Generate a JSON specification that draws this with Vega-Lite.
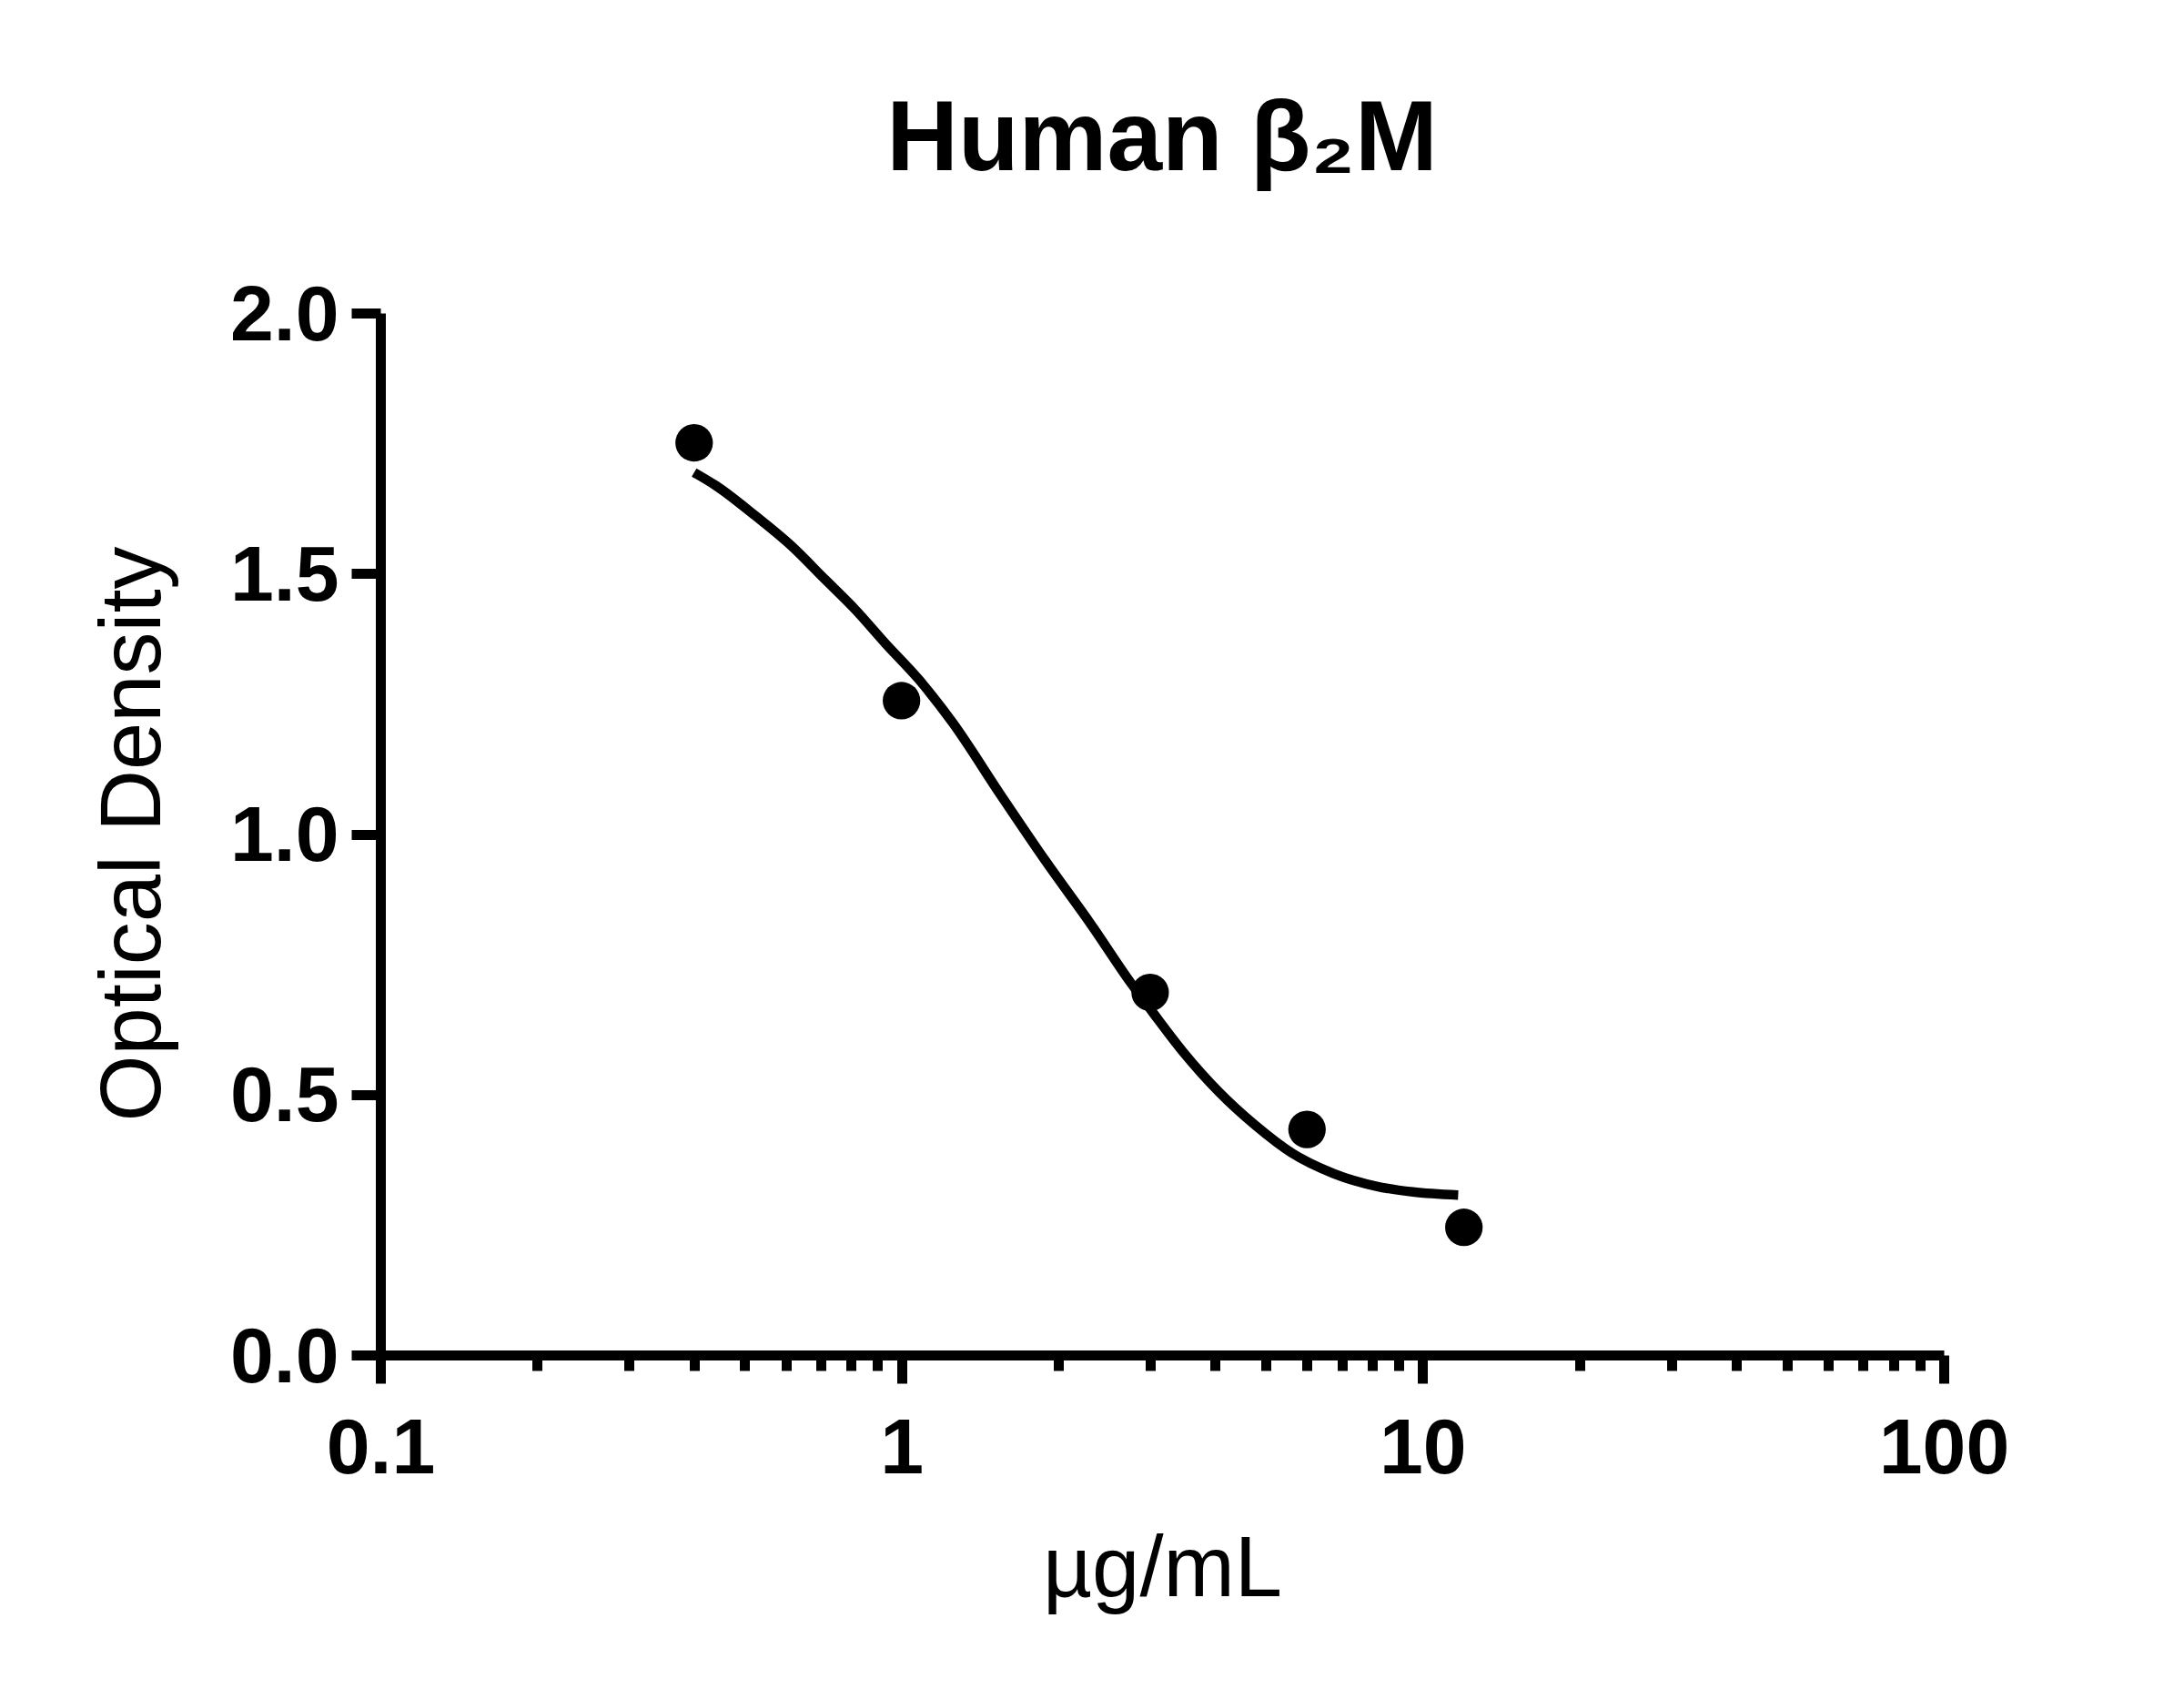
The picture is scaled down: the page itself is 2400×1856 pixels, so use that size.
{
  "$schema": "https://vega.github.io/schema/vega-lite/v6.json",
  "autosize": {"type": "none"},
  "padding": {"left": 418, "top": 344, "right": 264, "bottom": 367},
  "width": 1718,
  "height": 1145,
  "background": "white",
  "title": {
    "text": "Human β₂M",
    "font": "Liberation Sans",
    "fontSize": 109,
    "fontWeight": "bold",
    "color": "black",
    "anchor": "middle",
    "frame": "group",
    "baseline": "alphabetic",
    "offset": 8
  },
  "datasets": {
    "points": [
      {"conc": 0.4, "od": 1.751},
      {"conc": 1, "od": 1.256},
      {"conc": 3, "od": 0.696},
      {"conc": 6, "od": 0.433},
      {"conc": 12, "od": 0.245}
    ],
    "curve": [
      {"conc": 0.4, "od": 1.694},
      {"conc": 0.44, "od": 1.669},
      {"conc": 0.524, "od": 1.611},
      {"conc": 0.615, "od": 1.553},
      {"conc": 0.713, "od": 1.489},
      {"conc": 0.815, "od": 1.431},
      {"conc": 0.931, "od": 1.366},
      {"conc": 1.079, "od": 1.297},
      {"conc": 1.251, "od": 1.215},
      {"conc": 1.55, "od": 1.075},
      {"conc": 1.894, "od": 0.947},
      {"conc": 2.316, "od": 0.825},
      {"conc": 2.756, "od": 0.714},
      {"conc": 3.028, "od": 0.659},
      {"conc": 3.462, "od": 0.583},
      {"conc": 4.065, "od": 0.505},
      {"conc": 4.774, "od": 0.441},
      {"conc": 5.607, "od": 0.388},
      {"conc": 6.765, "od": 0.348},
      {"conc": 8.155, "od": 0.324},
      {"conc": 9.579, "od": 0.313},
      {"conc": 11.7, "od": 0.307}
    ]
  },
  "encoding": {
    "x": {
      "field": "conc",
      "type": "quantitative",
      "scale": {"type": "log", "domain": [0.1, 100], "nice": false},
      "axis": {
        "title": "µg/mL",
        "values": [0.1, 0.2, 0.3, 0.4, 0.5, 0.6, 0.7, 0.8, 0.9, 1, 2, 3, 4, 5, 6, 7, 8, 9, 10, 20, 30, 40, 50, 60, 70, 80, 90, 100],
        "labelExpr": "indexof([0.1, 1, 10, 100], datum.value) >= 0 ? format(datum.value, '~g') : ''",
        "labelOverlap": false,
        "labelFlush": false,
        "tickSize": {"condition": {"test": "indexof([0.1, 1, 10, 100], datum.value) >= 0", "value": 31}, "value": 17},
        "labelPadding": 30,
        "titleY": 264,
        "titleBaseline": "alphabetic"
      }
    },
    "y": {
      "field": "od",
      "type": "quantitative",
      "scale": {"domain": [0, 2], "nice": false},
      "axis": {
        "title": "Optical Density",
        "values": [0, 0.5, 1, 1.5, 2],
        "format": ".1f",
        "tickSize": 32,
        "labelPadding": 14,
        "labelOffset": 3,
        "titleAngle": 270,
        "titleX": -243,
        "titleY": 572,
        "titleAlign": "center",
        "titleBaseline": "alphabetic"
      }
    }
  },
  "layer": [
    {
      "data": {"name": "curve"},
      "mark": {"type": "line", "color": "black", "strokeWidth": 10.5, "interpolate": "monotone"}
    },
    {
      "data": {"name": "points"},
      "mark": {"type": "point", "shape": "circle", "filled": true, "color": "black", "opacity": 1, "size": 1700}
    }
  ],
  "config": {
    "view": {"stroke": null},
    "axis": {
      "grid": false,
      "domainColor": "black",
      "domainWidth": 11,
      "tickColor": "black",
      "tickWidth": 11,
      "labelFont": "Liberation Sans",
      "labelFontSize": 86,
      "labelFontWeight": "bold",
      "labelColor": "black",
      "titleFont": "Liberation Sans",
      "titleFontSize": 94,
      "titleFontWeight": "normal",
      "titleColor": "black"
    }
  }
}
